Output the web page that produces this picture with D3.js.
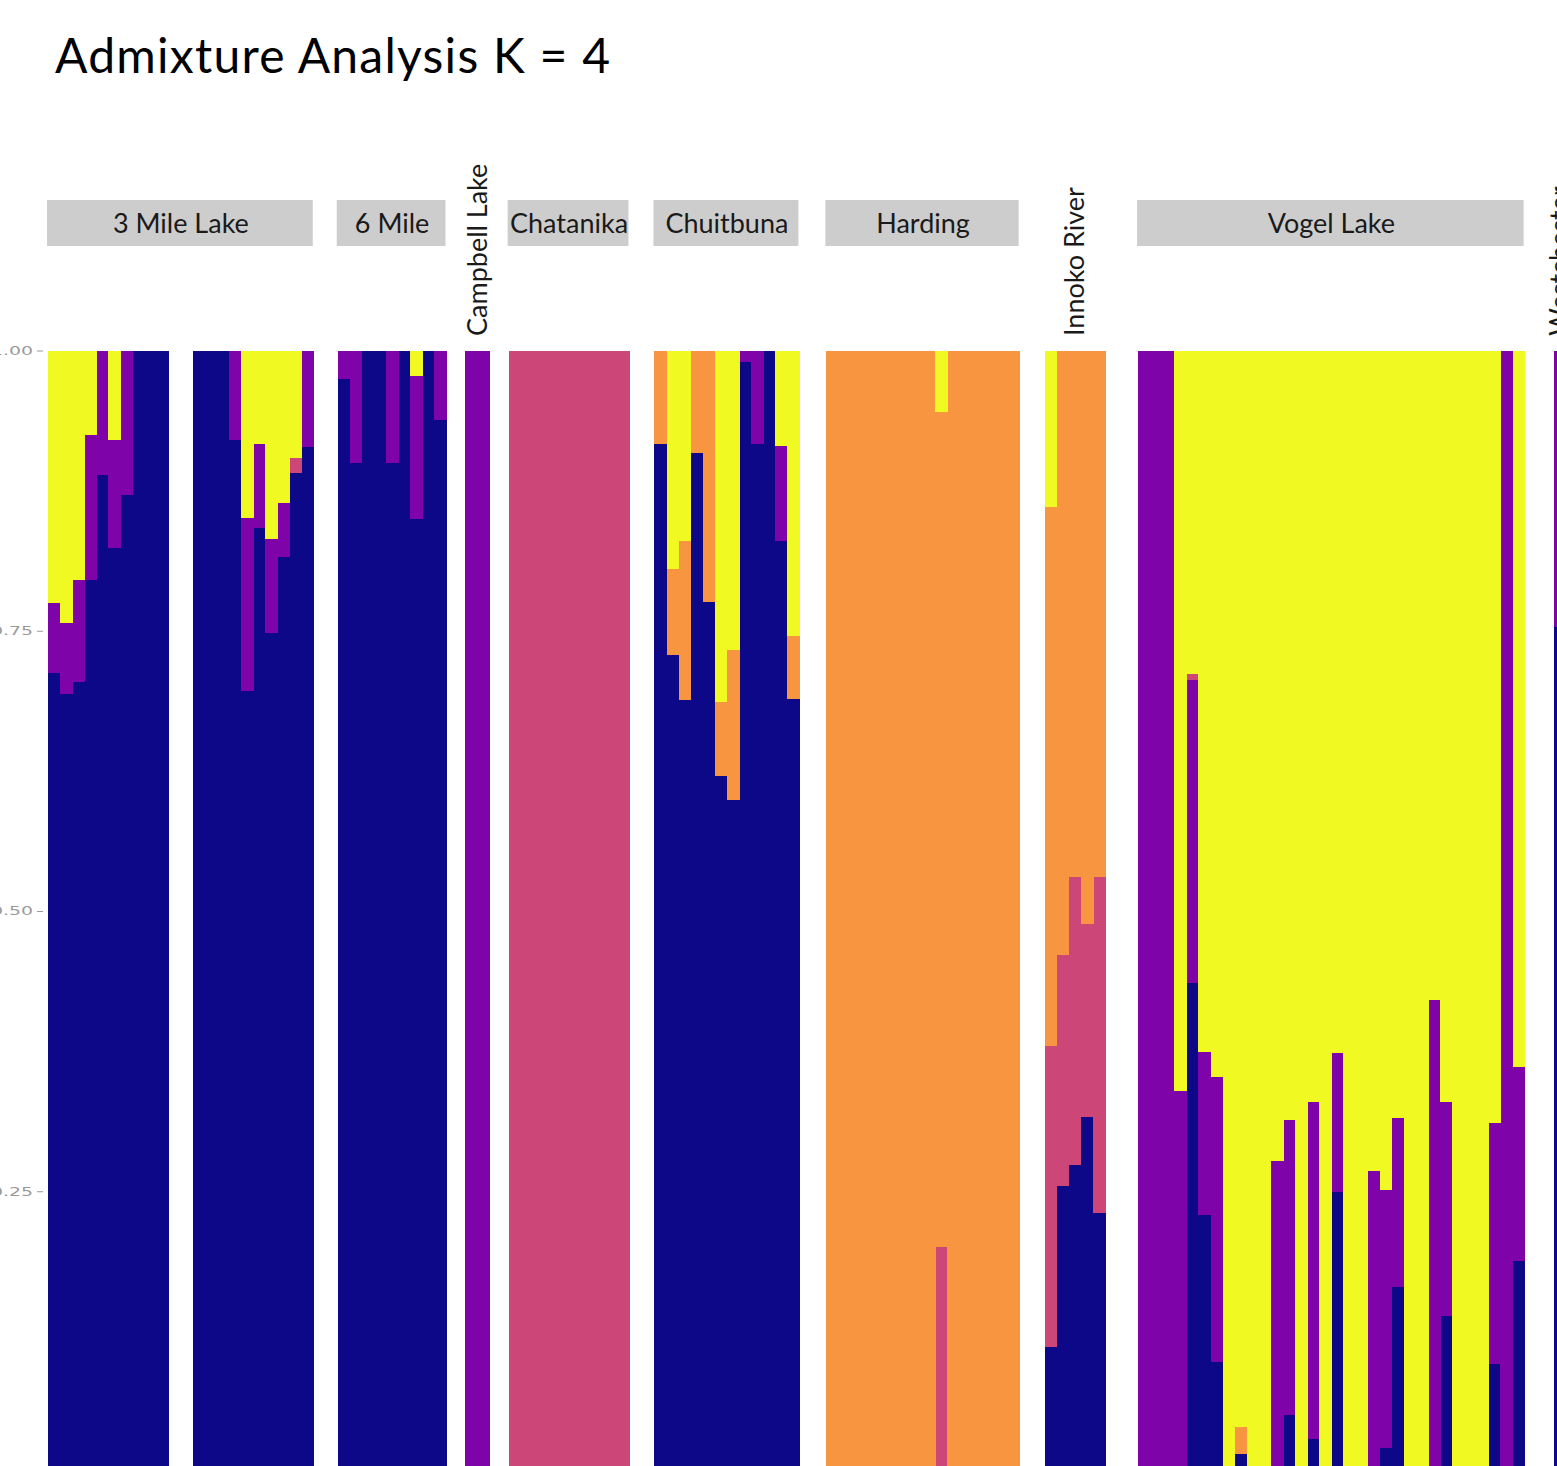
<!DOCTYPE html><html><head><meta charset="utf-8"></head>
<script src="https://cdn.jsdelivr.net/npm/d3@7/dist/d3.min.js"></script>
<body style="margin:0;background:#fff"><svg id="chart"></svg>
<script>

// ancestry proportions per sample: [navy, purple, pink, orange, yellow]
var clusters = ["K1", "K2", "K3", "K4", "K5"];
var clusterColors = ["#0d0887", "#7e03a8", "#cc4778", "#f89540", "#f0f921"];

var threeMileLake = [
  [0.712, 0.063, 0, 0, 0.225], [0.694, 0.063, 0, 0, 0.243], [0.704, 0.091, 0, 0, 0.205],
  [0.795, 0.130, 0, 0, 0.075], [0.889, 0.111, 0, 0, 0], [0.824, 0.096, 0, 0, 0.080],
  [0.871, 0.129, 0, 0, 0], [1, 0, 0, 0, 0], [1, 0, 0, 0, 0], [1, 0, 0, 0, 0],
  null, null,
  [1, 0, 0, 0, 0], [1, 0, 0, 0, 0], [1, 0, 0, 0, 0], [0.920, 0.080, 0, 0, 0],
  [0.696, 0.155, 0, 0, 0.149], [0.842, 0.075, 0, 0, 0.083], [0.748, 0.084, 0, 0, 0.168],
  [0.816, 0.048, 0, 0, 0.136], [0.891, 0, 0.013, 0, 0.096], [0.914, 0.086, 0, 0, 0]
];
var sixMile = [
  [0.975, 0.025, 0, 0, 0], [0.900, 0.100, 0, 0, 0], [1, 0, 0, 0, 0], [1, 0, 0, 0, 0],
  [0.900, 0.100, 0, 0, 0], [1, 0, 0, 0, 0], [0.850, 0.127, 0, 0, 0.023], [1, 0, 0, 0, 0],
  [0.938, 0.062, 0, 0, 0]
];
var campbellLake = [[0, 1, 0, 0, 0], [0, 1, 0, 0, 0]];
var chatanika = [
  [0, 0, 1, 0, 0], [0, 0, 1, 0, 0], [0, 0, 1, 0, 0], [0, 0, 1, 0, 0], [0, 0, 1, 0, 0],
  [0, 0, 1, 0, 0], [0, 0, 1, 0, 0], [0, 0, 1, 0, 0], [0, 0, 1, 0, 0], [0, 0, 1, 0, 0]
];
var chuitbuna = [
  [0.917, 0, 0, 0.083, 0], [0.728, 0, 0, 0.077, 0.195], [0.688, 0, 0, 0.142, 0.170],
  [0.909, 0, 0, 0.091, 0], [0.776, 0, 0, 0.224, 0], [0.620, 0, 0, 0.066, 0.314],
  [0.599, 0, 0, 0.134, 0.267], [0.990, 0.010, 0, 0, 0], [0.917, 0.083, 0, 0, 0],
  [1, 0, 0, 0, 0], [0.830, 0.085, 0, 0, 0.085], [0.689, 0, 0, 0.056, 0.255]
];
var harding = [
  [0, 0, 0, 1, 0], [0, 0, 0, 1, 0], [0, 0, 0, 1, 0], [0, 0, 0, 1, 0], [0, 0, 0, 1, 0],
  [0, 0, 0, 1, 0], [0, 0, 0, 1, 0], [0, 0, 0, 1, 0], [0, 0, 0, 1, 0], [0, 0, 0.200, 0.745, 0.055],
  [0, 0, 0, 1, 0], [0, 0, 0, 1, 0], [0, 0, 0, 1, 0], [0, 0, 0, 1, 0], [0, 0, 0, 1, 0],
  [0, 0, 0, 1, 0]
];
var innokoRiver = [
  [0.111, 0, 0.269, 0.480, 0.140], [0.255, 0, 0.206, 0.539, 0], [0.273, 0, 0.257, 0.470, 0],
  [0.316, 0, 0.172, 0.512, 0], [0.231, 0, 0.299, 0.470, 0]
];
var vogelLake = [
  [0, 1, 0, 0, 0], [0, 1, 0, 0, 0], [0, 1, 0, 0, 0], [0, 0.339, 0, 0, 0.661],
  [0.436, 0.270, 0.005, 0, 0.289], [0.229, 0.145, 0, 0, 0.626], [0.098, 0.254, 0, 0, 0.648],
  [0, 0, 0, 0, 1], [0.016, 0, 0, 0.024, 0.960], [0, 0, 0, 0, 1], [0, 0, 0, 0, 1],
  [0, 0.277, 0, 0, 0.723], [0.050, 0.264, 0, 0, 0.686], [0, 0, 0, 0, 1],
  [0.029, 0.301, 0, 0, 0.670], [0, 0, 0, 0, 1], [0.249, 0.124, 0, 0, 0.627],
  [0, 0, 0, 0, 1], [0, 0, 0, 0, 1], [0, 0.268, 0, 0, 0.732], [0.021, 0.230, 0, 0, 0.749],
  [0.165, 0.150, 0, 0, 0.685], [0, 0, 0, 0, 1], [0, 0, 0, 0, 1], [0, 0.421, 0, 0, 0.579],
  [0.139, 0.191, 0, 0, 0.670], [0, 0, 0, 0, 1], [0, 0, 0, 0, 1], [0, 0, 0, 0, 1],
  [0.096, 0.215, 0, 0, 0.689], [0, 1, 0, 0, 0], [0.188, 0.173, 0, 0, 0.639]
];
var westchester = [[0.753, 0.247, 0, 0, 0]];

var popNames = ["3 Mile Lake", "6 Mile", "Campbell Lake", "Chatanika", "Chuitbuna",
                "Harding", "Innoko River", "Vogel Lake", "Westchester"];
var popData = [threeMileLake, sixMile, campbellLake, chatanika, chuitbuna,
               harding, innokoRiver, vogelLake, westchester];
var yTicks = [0, 0.25, 0.5, 0.75, 1];

// layout
var W = 1557, H = 1466;
var plotLeft = 48, barW = 12.08;
var gaps = [24, 19, 19, 25, 27, 25, 33, 29];   // white space between facets
var rotatedStrip = ["Campbell Lake", "Innoko River", "Westchester"];

var svg = d3.select("#chart").attr("width", W).attr("height", H)
    .style("font-family", "Lato, 'Open Sans', sans-serif");

var y = d3.scaleLinear().domain([0, 1]).range([1471.5, 350.5]);

// facet positions
var panels = [];
var cx = plotLeft;
popData.forEach(function(d, i) {
  var w = d.length * barW;
  panels.push({name: popNames[i], data: d, x0: cx, x1: cx + w});
  cx += w + (gaps[i] || 0);
});

var stack = d3.stack().keys(d3.range(clusters.length));

panels.forEach(function(p) {
  var x = d3.scaleBand().domain(d3.range(p.data.length)).range([p.x0, p.x1]).padding(0);
  var rows = p.data.map(function(r) { return r ? r : [0, 0, 0, 0, 0]; });
  var series = stack(rows);

  var g = svg.append("g").attr("class", "panel").attr("shape-rendering", "crispEdges");
  g.selectAll(".layer")
    .data(series)
    .enter().append("g")
      .attr("fill", function(s, k) { return clusterColors[k]; })
    .selectAll("rect")
    .data(function(s) { return s; })
    .enter().append("rect")
      .attr("x", function(d, i) { return x(i); })
      .attr("width", x.bandwidth() + 0.5)
      .attr("y", function(d) { return y(d[1]); })
      .attr("height", function(d) { return Math.max(0, y(d[0]) - y(d[1])); });

  // strip labels
  if (rotatedStrip.indexOf(p.name) < 0) {
    svg.append("rect")
      .attr("x", p.x0 - 1).attr("y", 200)
      .attr("width", p.x1 - p.x0).attr("height", 46)
      .attr("fill", "#cdcdcd");
    svg.append("text")
      .attr("x", (p.x0 + p.x1) / 2).attr("y", 233)
      .attr("text-anchor", "middle")
      .style("font-size", "27px")
      .attr("fill", "#1a1a1a")
      .text(p.name);
  } else {
    var mid = (p.x0 + p.x1) / 2;
    svg.append("text")
      .attr("transform", "translate(" + (mid + 9) + ",336) rotate(-90)")
      .attr("text-anchor", "start")
      .style("font-size", "27px")
      .attr("fill", "#1a1a1a")
      .text(p.name);
  }
});

// y axis (labels run off the left edge, as in the cropped original)
var yAxis = svg.append("g").attr("transform", "translate(43,0)")
  .call(d3.axisLeft(y).tickValues(yTicks).tickFormat(d3.format(".2f")).tickSize(6).tickPadding(4));
yAxis.select(".domain").remove();
yAxis.selectAll("line").attr("stroke", "#9a9a9a");
yAxis.selectAll("text").attr("fill", "#9a9a9a").style("font-size", "12px")
  .style("font-family", "'DejaVu Sans', sans-serif")
  .attr("textLength", 42).attr("lengthAdjust", "spacingAndGlyphs");

svg.append("text")
  .attr("x", 55).attr("y", 73)
  .style("font-size", "48px")
  .attr("fill", "#000")
  .attr("textLength", 555)
  .text("Admixture Analysis K = 4");

</script>
</body></html>
